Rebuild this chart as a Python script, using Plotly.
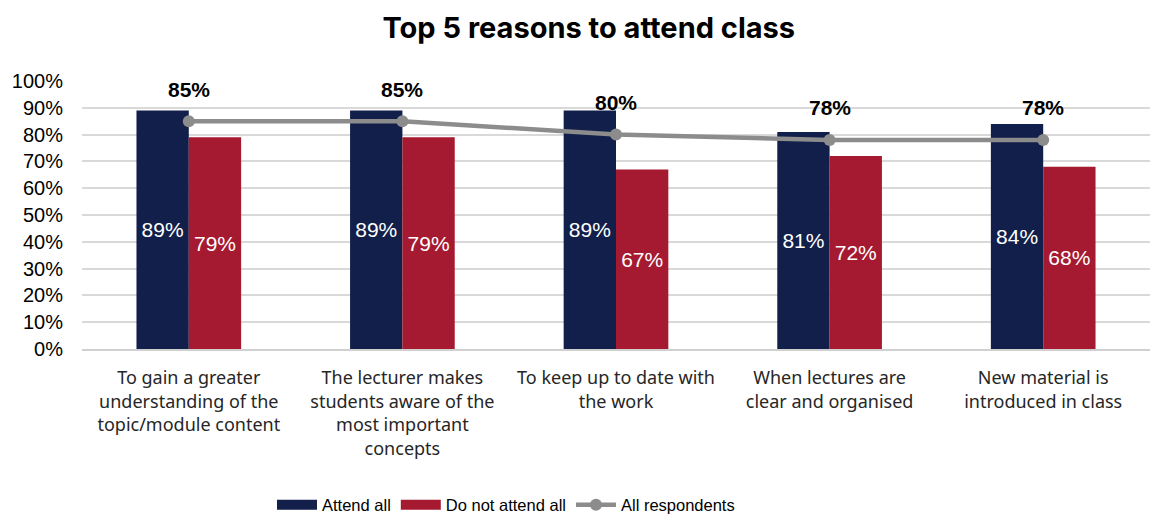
import plotly.graph_objects as go

categories = [
    "To gain a greater<br>understanding of the<br>topic/module content",
    "The lecturer makes<br>students aware of the<br>most important<br>concepts",
    "To keep up to date with<br>the work",
    "When lectures are<br>clear and organised",
    "New material is<br>introduced in class",
]
attend_all = [0.89, 0.89, 0.89, 0.81, 0.84]
not_attend_all = [0.79, 0.79, 0.67, 0.72, 0.68]
all_respondents = [0.85, 0.85, 0.80, 0.78, 0.78]

NAVY = "#111f4a"
RED = "#a51a30"
GREY = "#8c8c8c"
LABEL_FONT = "Liberation Sans, Arial"

fig = go.Figure()
fig.add_trace(go.Bar(
    x=categories, y=attend_all, name="Attend all", showlegend=False,
    marker=dict(color=NAVY, line=dict(width=0)),
    text=[f"{v:.0%}" for v in attend_all], texttemplate="%{text}",
    textposition="inside", insidetextanchor="middle",
    textfont=dict(color="white", size=21, family=LABEL_FONT),
))
fig.add_trace(go.Bar(
    x=categories, y=not_attend_all, name="Do not attend all", showlegend=False,
    marker=dict(color=RED, line=dict(width=0)),
    text=[f"{v:.0%}" for v in not_attend_all], texttemplate="%{text}",
    textposition="inside", insidetextanchor="middle",
    textfont=dict(color="white", size=21, family=LABEL_FONT),
))
fig.add_trace(go.Scatter(
    x=categories, y=all_respondents, name="All respondents",
    mode="lines+markers", showlegend=False,
    line=dict(color=GREY, width=4.5),
    marker=dict(color=GREY, size=12),
))
# legend entries (wide rectangle swatches like the original)
fig.add_trace(go.Scatter(x=[None], y=[None], mode="lines", name="Attend all",
                         line=dict(color=NAVY, width=11)))
fig.add_trace(go.Scatter(x=[None], y=[None], mode="lines", name="Do not attend all",
                         line=dict(color=RED, width=11)))
fig.add_trace(go.Scatter(x=[None], y=[None], mode="lines+markers", name="All respondents",
                         line=dict(color=GREY, width=4.5), marker=dict(color=GREY, size=12)))

for c, v in zip(categories, all_respondents):
    fig.add_annotation(
        x=c, y=v, text=f"<b>{v:.0%}</b>", showarrow=False,
        yshift=32, font=dict(size=21, color="black", family=LABEL_FONT),
    )

fig.update_layout(
    width=1150, height=515,
    margin=dict(l=82, r=0, t=81, b=166, autoexpand=False),
    paper_bgcolor="white", plot_bgcolor="white",
    barmode="group", bargap=0.51, bargroupgap=0,
    title=dict(text="<b>Top 5 reasons to attend class</b>", x=0.512, xanchor="center",
               y=0.945, yanchor="middle",
               font=dict(size=29, color="black", family="Inter, Noto Sans")),
    font=dict(family="Noto Sans", color="#262626"),
    showlegend=True,
    legend=dict(orientation="h", x=0.397, xanchor="center", y=-0.582, yanchor="middle",
                font=dict(size=16.5, color="black", family=LABEL_FONT),
                itemwidth=40, traceorder="normal"),
)
fig.update_yaxes(range=[0, 1], dtick=0.1, tickformat=".0%", automargin=False,
                 showgrid=True, gridcolor="#d9d9d9", gridwidth=1.5,
                 zeroline=False, ticks="", ticklen=0, ticklabelstandoff=18,
                 tickfont=dict(size=20, color="black", family=LABEL_FONT))
fig.update_xaxes(showline=True, linecolor="#d0d0d0", linewidth=1.5, ticks="",
                 automargin=False, ticklabelstandoff=12,
                 tickfont=dict(size=18, color="#262626", family="Noto Sans"),
                 tickangle=0)

fig.write_html("out.html")
